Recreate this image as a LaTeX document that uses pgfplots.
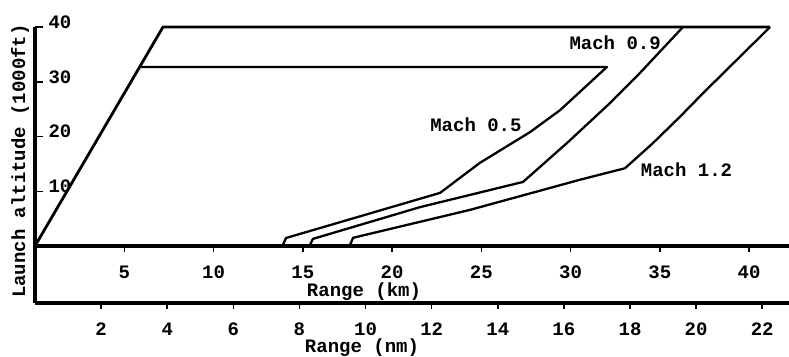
\documentclass[border=0pt]{standalone}
\usepackage{fontspec}
\setmainfont{Liberation Mono}
\usepackage{pgfplots}
\pgfplotsset{compat=1.18}
\newcommand{\lf}{\bfseries\fontsize{19}{19}\selectfont}
\begin{document}
\begin{tikzpicture}[x=1pt,y=1pt]
\useasboundingbox (0,0) rectangle (789,356);
\begin{axis}[
  at={(35pt,110pt)}, anchor=south west,
  scale only axis, width=754pt, height=219pt,
  xmin=0, xmax=42.24, ymin=0, ymax=40,
  axis lines*=left,
  axis line style={line width=3.5pt},
  xtick={5,10,...,40}, ytick={10,20,30,40},
  tick style={black, line width=1.5pt},
  tick align=center, major tick length=8pt,
  xtick style={yshift=-2pt},
  ytick style={xshift=4pt},
  ticklabel style={font=\lf},
  /pgf/number format/assume math mode=true,
  xticklabel style={yshift=-12pt},
  yticklabel style={anchor=west, xshift=14pt, yshift=5pt},
  clip=false
]
% envelope and top line
\addplot[black, line width=2.8pt, line join=round] coordinates {(0,0) (7.17,40) (41.18,40)};
% Mach 0.5
\addplot[black, line width=2.3pt, line join=round] coordinates {
  (13.89,0.2) (14.06,1.46) (22.69,9.7) (24.93,15.2) (27.73,20.8) (29.41,24.8) (32.04,32.7) (5.86,32.7)};
% Mach 0.9
\addplot[black, line width=2.3pt, line join=round] coordinates {
  (15.41,0.2) (15.57,1.3) (21.57,7.1) (27.34,11.7) (29.80,18.8) (32.21,26.1) (33.89,31.6) (36.30,40)};
% Mach 1.2
\addplot[black, line width=2.3pt, line join=round] coordinates {
  (17.65,0.2) (17.82,1.5) (24.37,6.6) (30.53,12.1) (33.05,14.2) (34.62,18.8) (36.13,23.6) (37.42,27.9) (41.18,40)};
\node[font=\lf] at (axis cs:24.7,22.1) {Mach 0.5};
\node[font=\lf] at (axis cs:32.5,37.1) {Mach 0.9};
\node[font=\lf] at (axis cs:36.5,13.9) {Mach 1.2};
\end{axis}
\begin{axis}[
  at={(35pt,53pt)}, anchor=south west,
  scale only axis, width=754pt, height=57pt,
  xmin=0, xmax=22.81, ymin=0, ymax=1,
  axis lines*=left,
  axis line style={line width=3.5pt},
  xtick={2,4,...,22}, ytick=\empty,
  tick style={black, line width=1.5pt},
  tick align=center, major tick length=8pt,
  xtick style={yshift=-2pt},
  ticklabel style={font=\lf},
  /pgf/number format/assume math mode=true,
  xticklabel style={yshift=-12pt},
]
\addplot[draw=none] coordinates {(0,0)};
\end{axis}
\node[font=\lf, rotate=90] at (20,195) {Launch altitude (1000ft)};
\node[font=\lf] at (364,64) {Range (km)};
\node[font=\lf] at (362,8) {Range (nm)};
\end{tikzpicture}
\end{document}
